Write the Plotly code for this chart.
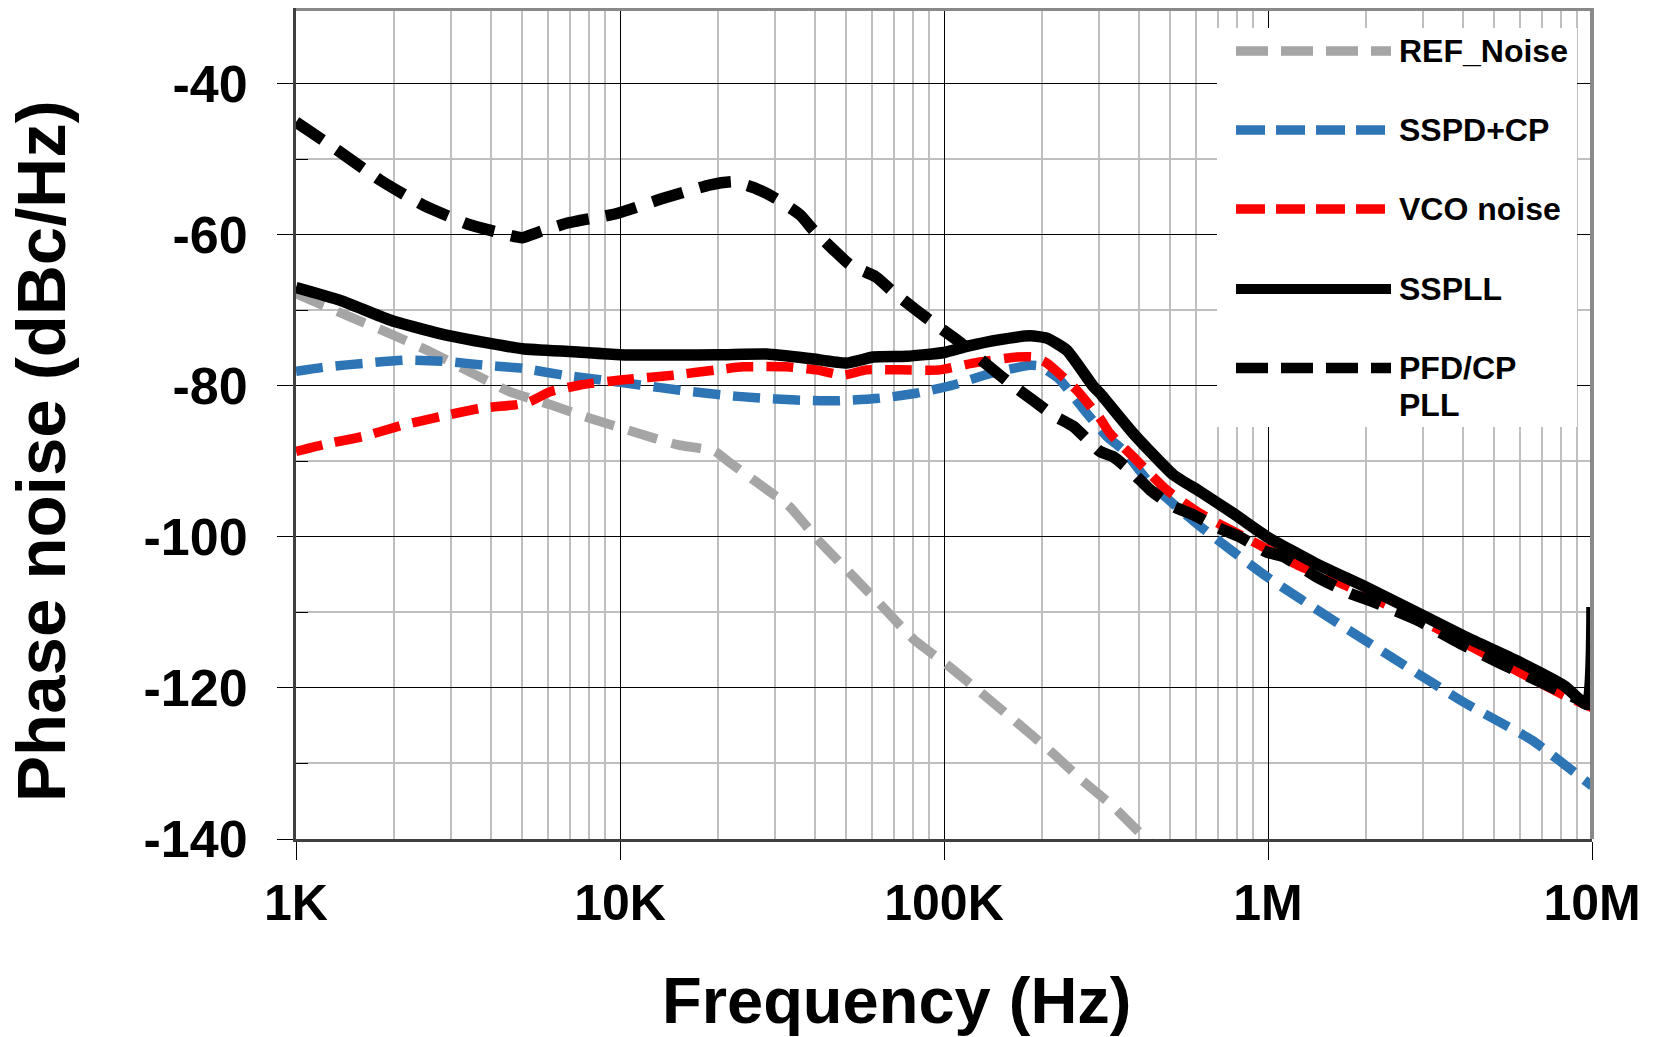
import plotly.graph_objects as go

# ---------------- data ----------------
ref_f = [1000, 1469, 1950, 2594, 3524, 4571, 6081, 8072, 10990, 14960, 19630, 21680,
         25880, 33340, 40830, 51290, 64420, 80720, 104000, 130600, 163700, 210900,
         264900, 332700, 417800, 457000]
ref_v = [-67.8, -70.9, -73.1, -75.5, -78.4, -80.8, -82.5, -84.3, -86.1, -87.8, -88.7, -90.1,
         -92.5, -96.0, -100.4, -104.8, -109.2, -113.6, -117.2, -120.7, -124.2, -128.2,
         -132.1, -135.7, -139.9, -141.5]

sspd_f = [1000, 1245, 1652, 2198, 2917, 3873, 5012, 6683, 8670, 11535, 15310, 20370,
          26300, 35080, 46560, 61660, 82220, 106700, 138400, 183700, 197200, 227500,
          275400, 317700, 357300, 432500, 616600, 993000, 1585000, 2570000, 4055000,
          6516000, 10000000]
sspd_v = [-78.1, -77.5, -77.0, -76.6, -76.8, -77.3, -77.7, -78.6, -79.2, -79.9, -80.6, -81.2,
          -81.6, -81.9, -82.0, -81.7, -81.0, -79.9, -78.4, -77.3, -77.4, -79.2,
          -83.6, -86.7, -88.5, -92.9, -98.6, -105.3, -111.0, -116.7, -122.0,
          -126.9, -133.0]

vco_f = [1000, 1213, 1614, 2143, 2780, 3698, 4797, 5272, 6081, 7534, 10230, 14620,
         19860, 23990, 32660, 40460, 48980, 57540, 73110, 97050, 123000, 167500, 188800,
         207500, 257000, 302700, 325100, 383700, 486400, 616600, 879000, 1256000,
         1667000, 2270000, 3236000, 4624000, 6607000, 8318000, 10000000]
vco_v = [-88.7, -87.8, -86.7, -85.2, -84.1, -83.0, -82.5, -82.1, -80.8, -79.9, -79.2, -78.6,
         -77.9, -77.5, -77.5, -77.9, -78.6, -77.9, -77.9, -77.9, -77.0, -76.2, -76.2,
         -77.0, -80.6, -84.3, -86.3, -89.4, -93.8, -96.9, -100.4, -103.9,
         -106.1, -108.8, -111.9, -115.4, -118.9, -121.1, -122.6]

sspll_f = [1000, 1370, 1950, 2780, 3970, 5000, 7180, 10000, 20000, 28400, 38600, 50000,
           60500, 76700, 100000, 117500, 149000, 184500, 207500, 239300, 289100, 303000,
           383700, 510500, 616600, 781600, 993000, 1400000, 1995000, 2910000, 4055000,
           5790000, 8260000, 9640000, 10000000]
sspll_v = [-67.0, -68.7, -71.3, -73.1, -74.4, -75.1, -75.5, -75.9, -75.9, -75.8, -76.4, -77.0,
           -76.2, -76.1, -75.6, -74.8, -73.9, -73.4, -73.7, -75.3, -80.1, -81.0,
           -86.3, -91.8, -94.0, -96.9, -100.0, -103.5, -106.6, -110.1, -113.2,
           -116.3, -119.8, -122.2, -109.3]

pfd_f = [1000, 1340, 1820, 2470, 3440, 4800, 5000, 5660, 6840, 9770, 13600, 19000, 22400,
         26300, 30200, 36000, 39500, 45600, 51300, 61700, 69700, 82200, 92700, 110000,
         142000, 160000, 188000, 217000, 251000, 303000, 333000, 384000, 433000, 511000,
         589000, 692000, 818000, 989000, 1114000, 1413000, 1795000, 2118000, 2884000,
         3917000, 5200000, 7413000, 10000000]
pfd_v = [-45.1, -48.8, -52.8, -56.1, -58.7, -60.3, -60.4, -59.6, -58.5, -57.2, -55.2, -53.4, -53.0,
         -53.9, -55.2, -57.4, -59.4, -62.0, -64.0, -65.6, -67.6, -70.0, -71.7, -74.0,
         -77.9, -79.7, -81.9, -83.9, -85.4, -88.7, -89.4, -91.6, -93.8, -96.0,
         -97.1, -98.7, -100.0, -102.0, -102.6, -105.3, -107.5, -108.6, -111.0,
         -114.1, -116.7, -119.8, -122.3]

names = ["REF_Noise", "SSPD+CP", "VCO noise", "SSPLL", "PFD/CP PLL"]
x_tickvals = [1e3, 1e4, 1e5, 1e6, 1e7]
x_ticktext = ["1K", "10K", "100K", "1M", "10M"]
y_tickvals = [-140, -120, -100, -80, -60, -40]
y_ticktext = ["-140", "-120", "-100", "-80", "-60", "-40"]

# ---------------- styling ----------------
FONT = "Liberation Sans, Arial, sans-serif"
OFF = 8                      # page body margin of the html page
W, H = 1655 - OFF, 1037 - OFF
L, R, T, B = 288, 63, 0, 198
PW, PH = W - L - R, H - T - B
X0, Y0 = OFF + L, OFF + T + PH   # plot-area left / bottom in window pixels

def px(x):
    return (x - X0) / PW

def py(y):
    return (Y0 - y) / PH

GRAY = "#A5A5A5"
BLUE = "#2E75B6"
RED = "#FF0000"
BLACK = "#000000"

styles = [
    dict(color=GRAY, width=9.5, dash="30px,15px"),
    dict(color=BLUE, width=9.5, dash="27px,13px"),
    dict(color=RED, width=9.5, dash="27px,13px"),
    dict(color=BLACK, width=11.5, dash="solid"),
    dict(color=BLACK, width=11.5, dash="32px,17px"),
]
series = [(ref_f, ref_v), (sspd_f, sspd_v), (vco_f, vco_v), (sspll_f, sspll_v), (pfd_f, pfd_v)]

fig = go.Figure()
for (fx, fy), nm, st in zip(series, names, styles):
    fig.add_trace(go.Scatter(x=fx, y=fy, mode="lines", name=nm, showlegend=False,
                             line=dict(color=st["color"], width=st["width"], dash=st["dash"],
                                       shape="spline", smoothing=0.5)))

minor_x = [k * 10 ** d for d in range(3, 7) for k in range(2, 10)]

fig.update_xaxes(type="log", range=[3, 7], tickvals=x_tickvals, ticktext=x_ticktext,
                 ticks="outside", ticklen=18, tickwidth=1, tickcolor="black",
                 showgrid=True, gridcolor="black", gridwidth=1,
                 minor=dict(tickvals=minor_x, showgrid=True, gridcolor="#BFBFBF", gridwidth=2, ticks=""),
                 showline=True, linecolor="#404040", linewidth=3, zeroline=False,
                 tickfont=dict(family=FONT, size=50, color="black", weight="bold"),
                 ticklabelstandoff=0)
fig.update_yaxes(range=[-140, -30], tickvals=y_tickvals, ticktext=y_ticktext,
                 ticks="outside", ticklen=16, tickwidth=1, tickcolor="black",
                 showgrid=True, gridcolor="black", gridwidth=1,
                 minor=dict(tickvals=[-130, -110, -90, -70, -50], showgrid=True, gridcolor="#BFBFBF",
                            gridwidth=2, ticks="inside", ticklen=12, tickcolor="black", tickwidth=1),
                 showline=True, linecolor="#404040", linewidth=3, zeroline=False,
                 tickfont=dict(family=FONT, size=52, color="black", weight="bold"),
                 ticklabelstandoff=19)

shapes = []
# gray top / right frame
shapes.append(dict(type="line", xref="paper", yref="paper", x0=0, x1=1, y0=1 - 1.0 / PH, y1=1 - 1.0 / PH,
                   line=dict(color="#898989", width=4), layer="above"))
shapes.append(dict(type="line", xref="paper", yref="paper", x0=1, x1=1, y0=0, y1=1,
                   line=dict(color="#898989", width=4), layer="above"))
# legend box
shapes.append(dict(type="rect", xref="paper", yref="paper", x0=px(1217), x1=px(1577),
                   y0=py(427), y1=py(28), fillcolor="white", line=dict(width=0), layer="above"))

leg_y = [51, 130, 209, 289, 368]
leg_dash = ["32px,13px", "29px,11px", "29px,11px", "solid", "32px,13px"]
leg_w = [9.5, 9.5, 9.5, 10, 10.5]
for yy, st, dsh, lw in zip(leg_y, styles, leg_dash, leg_w):
    shapes.append(dict(type="line", xref="paper", yref="paper", x0=px(1236), x1=px(1391),
                       y0=py(yy), y1=py(yy), line=dict(color=st["color"], width=lw, dash=dsh),
                       layer="above"))

annotations = []
leg_text = ["REF_Noise", "SSPD+CP", "VCO noise", "SSPLL", "PFD/CP"]
for yy, tx in zip(leg_y, leg_text):
    annotations.append(dict(text=tx, xref="paper", yref="paper", x=px(1397), y=py(yy),
                            xanchor="left", yanchor="middle", showarrow=False,
                            font=dict(family=FONT, size=32, color="black", weight="bold")))
annotations.append(dict(text="PLL", xref="paper", yref="paper", x=px(1397), y=py(405),
                        xanchor="left", yanchor="middle", showarrow=False,
                        font=dict(family=FONT, size=32, color="black", weight="bold")))
# axis titles
annotations.append(dict(text="Frequency (Hz)", xref="paper", yref="paper", x=px(897), y=py(1000),
                        xanchor="center", yanchor="middle", showarrow=False,
                        font=dict(family=FONT, size=65, color="black", weight="bold")))
annotations.append(dict(text="Phase noise (dBc/Hz)", xref="paper", yref="paper", x=px(42), y=py(451),
                        xanchor="center", yanchor="middle", showarrow=False, textangle=-90,
                        font=dict(family=FONT, size=69, color="black", weight="bold")))

fig.update_layout(width=W, height=H, margin=dict(l=L, r=R, t=T, b=B, autoexpand=False),
                  paper_bgcolor="white", plot_bgcolor="white",
                  shapes=shapes, annotations=annotations, showlegend=False)

fig.write_html("out.html")
